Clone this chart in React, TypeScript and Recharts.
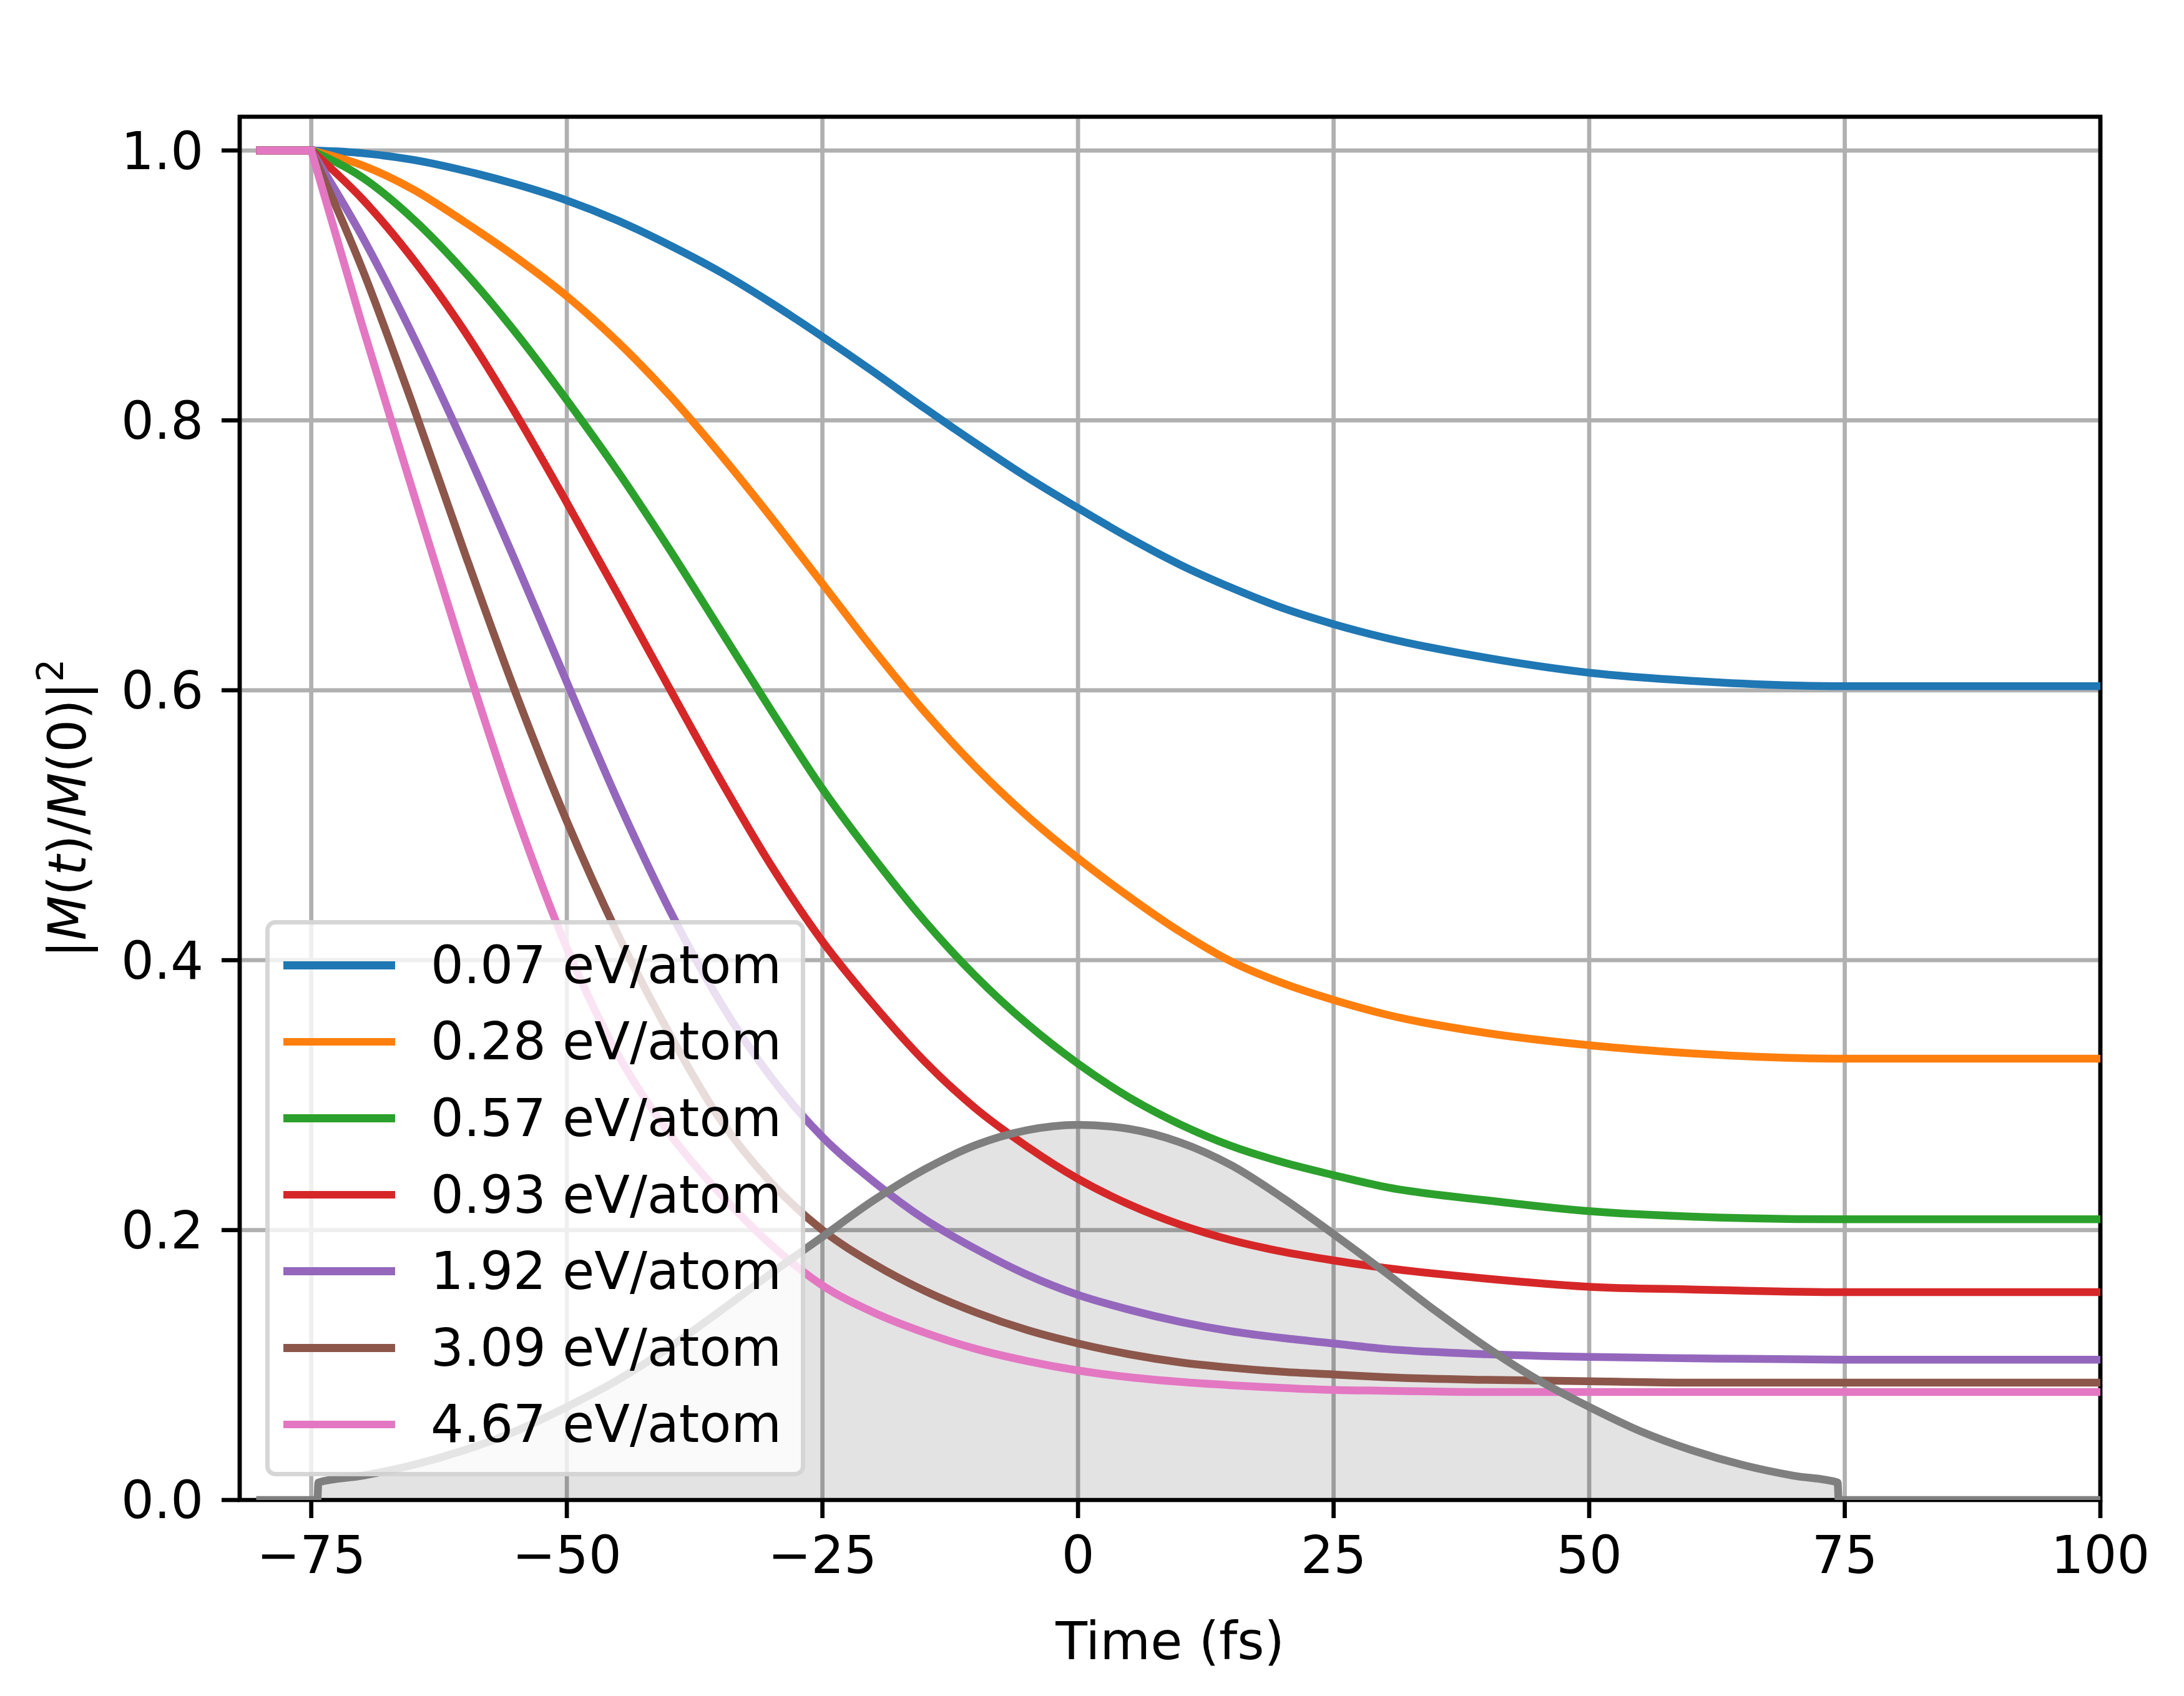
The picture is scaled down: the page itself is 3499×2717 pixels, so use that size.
import React from 'react';
import {
  ComposedChart,
  Line,
  Area,
  XAxis,
  YAxis,
  CartesianGrid,
  ReferenceArea,
  Legend,
} from 'recharts';

// ---- data ----
const TIME = [-80, -75, -70, -65, -60, -55, -50, -45, -40, -35, -30, -25, -20, -15, -10, -5, 0, 5, 10, 15, 20, 25, 30, 40, 50, 60, 75, 100];
// time at which the decay starts (curves are flat before it)
const ONSET = -75;

const E007 = [1, 1, 0.998, 0.993, 0.985, 0.975, 0.963, 0.948, 0.93, 0.91, 0.887, 0.862, 0.836, 0.809, 0.783, 0.758, 0.735, 0.713, 0.693, 0.676, 0.661, 0.649, 0.639, 0.624, 0.613, 0.607, 0.603, 0.603];
const E028 = [1, 1, 0.989, 0.971, 0.947, 0.921, 0.892, 0.858, 0.819, 0.775, 0.728, 0.679, 0.63, 0.584, 0.543, 0.507, 0.4755, 0.447, 0.421, 0.399, 0.383, 0.3705, 0.36, 0.346, 0.337, 0.331, 0.327, 0.327];
const E057 = [1, 1, 0.98, 0.949, 0.91, 0.865, 0.815, 0.762, 0.705, 0.645, 0.585, 0.527, 0.476, 0.429, 0.388, 0.353, 0.3233, 0.2983, 0.2783, 0.2623, 0.2503, 0.2407, 0.232, 0.222, 0.214, 0.21, 0.208, 0.208];
const E093 = [1, 1, 0.964, 0.919, 0.866, 0.805, 0.739, 0.671, 0.602, 0.534, 0.47, 0.414, 0.367, 0.325, 0.29, 0.262, 0.238, 0.219, 0.204, 0.1925, 0.184, 0.1775, 0.172, 0.164, 0.158, 0.156, 0.154, 0.154];
const E192 = [1, 1, 0.936, 0.862, 0.781, 0.695, 0.606, 0.518, 0.438, 0.369, 0.313, 0.269, 0.236, 0.208, 0.186, 0.167, 0.152, 0.141, 0.132, 0.125, 0.12, 0.116, 0.112, 0.108, 0.106, 0.105, 0.104, 0.104];
const E309 = [1, 1, 0.912, 0.81, 0.702, 0.598, 0.503, 0.419, 0.346, 0.282, 0.235, 0.2, 0.175, 0.155, 0.139, 0.126, 0.116, 0.108, 0.102, 0.098, 0.095, 0.093, 0.091, 0.089, 0.088, 0.087, 0.087, 0.087];
const E467 = [1, 1, 0.87, 0.746, 0.624, 0.509, 0.409, 0.33, 0.272, 0.227, 0.189, 0.159, 0.139, 0.124, 0.112, 0.103, 0.096, 0.091, 0.0875, 0.085, 0.083, 0.0815, 0.081, 0.08, 0.08, 0.08, 0.08, 0.08];

const SERIES_VALUES = [E007, E028, E057, E093, E192, E309, E467];
const SERIES_LABELS = ['0.07 eV/atom', '0.28 eV/atom', '0.57 eV/atom', '0.93 eV/atom', '1.92 eV/atom', '3.09 eV/atom', '4.67 eV/atom'];
const SERIES_COLORS = ['#1f77b4', '#ff7f0e', '#2ca02c', '#d62728', '#9467bd', '#8c564b', '#e377c2'];

const PULSE_TIME = [-80, -74.4, -74.3, -70, -65, -60, -55, -50, -45, -40, -35, -30, -25, -20, -15, -10, -5, 0, 5, 10, 15, 20, 25, 30, 35, 40, 45, 50, 55, 60, 65, 70, 74.3, 74.4, 100];
const PULSE = [0, 0, 0.013, 0.018, 0.026, 0.037, 0.051, 0.069, 0.089, 0.113, 0.14, 0.168, 0.195, 0.222, 0.245, 0.263, 0.274, 0.278, 0.275, 0.265, 0.248, 0.224, 0.197, 0.169, 0.14, 0.113, 0.089, 0.069, 0.051, 0.037, 0.026, 0.018, 0.013, 0, 0];

const X_TICKS = [-75, -50, -25, 0, 25, 50, 75, 100];
const Y_TICKS = [0, 0.2, 0.4, 0.6, 0.8, 1.0];
const X_DOMAIN = [-82, 100];
const Y_DOMAIN = [0, 1.025];

// ---- table built from the arrays ----
function buildTable() {
  const map = new Map<number, any>();
  const get = (t: number) => {
    if (!map.has(t)) map.set(t, { t });
    return map.get(t);
  };
  TIME.forEach((t, i) => {
    const row = get(t);
    SERIES_VALUES.forEach((vals, k) => {
      if (t >= ONSET) row['s' + k] = vals[i];
      if (t <= ONSET) row['f' + k] = vals[i];
    });
  });
  PULSE_TIME.forEach((t, i) => {
    get(t).pulse = PULSE[i];
  });
  return Array.from(map.values()).sort((a, b) => a.t - b.t);
}
const DATA = buildTable();

const FONT = 'DejaVu Sans';
const FS = 83;
const LW = 12.5;
const AXW = 6.7;

const fmtX = (v: number) => (v < 0 ? '\u2212' + Math.abs(v) : String(v));
const fmtY = (v: number) => v.toFixed(1);

const YLabel = (props: any) => {
  const vb = props && props.viewBox ? props.viewBox : { x: 0, y: 187, width: 384, height: 2216 };
  const cx = 137;
  const cy = vb.y + vb.height / 2;
  return (
    <text
      x={cx}
      y={cy}
      transform={`rotate(-90 ${cx} ${cy})`}
      textAnchor="middle"
      fontSize={FS}
      fontFamily={FONT}
      fill="#000"
    >
      <tspan>|</tspan>
      <tspan fontStyle="italic">M</tspan>
      <tspan>(</tspan>
      <tspan fontStyle="italic">t</tspan>
      <tspan>)/</tspan>
      <tspan fontStyle="italic">M</tspan>
      <tspan>(0)|</tspan>
      <tspan fontSize={58} dy={-36}>2</tspan>
    </text>
  );
};

const XLabel = (props: any) => {
  const vb = props && props.viewBox ? props.viewBox : { x: 384, y: 2403, width: 2981, height: 314 };
  const cx = vb.x + vb.width / 2;
  return (
    <text x={cx} y={vb.y + 255} textAnchor="middle" fontSize={FS} fontFamily={FONT} fill="#000">
      Time (fs)
    </text>
  );
};

const LegendBox = () => (
  <div
    style={{
      boxSizing: 'border-box',
      width: 865,
      height: 891,
      border: '7px solid rgba(204,204,204,0.8)',
      borderRadius: 16,
      background: 'rgba(255,255,255,0.8)',
      paddingTop: 4,
      paddingLeft: 22,
      fontFamily: FONT,
      fontSize: FS,
      color: '#000',
    }}
  >
    {SERIES_LABELS.map((label, k) => (
      <div key={label} style={{ display: 'flex', alignItems: 'center', height: 122.6 }}>
        <div style={{ width: 179, height: LW, background: SERIES_COLORS[k], flex: 'none' }} />
        <div style={{ marginLeft: 57, whiteSpace: 'nowrap', lineHeight: 'normal' }}>{label}</div>
      </div>
    ))}
  </div>
);

export default function App() {
  const lines: React.ReactNode[] = [];
  SERIES_VALUES.forEach((_, k) => {
    lines.push(
      <Line
        key={'f' + k}
        type="linear"
        dataKey={'f' + k}
        stroke={SERIES_COLORS[k]}
        strokeWidth={LW}
        strokeLinecap="square"
        strokeLinejoin="round"
        dot={false}
        activeDot={false}
        connectNulls
        isAnimationActive={false}
      />
    );
    lines.push(
      <Line
        key={'s' + k}
        type="monotone"
        dataKey={'s' + k}
        stroke={SERIES_COLORS[k]}
        strokeWidth={LW}
        strokeLinecap="round"
        strokeLinejoin="round"
        dot={false}
        activeDot={false}
        connectNulls
        isAnimationActive={false}
      />
    );
  });

  return (
    <div style={{ position: 'absolute', left: 0, top: 0, width: 3499, height: 2717, background: '#fff' }}>
      <ComposedChart
        width={3499}
        height={2717}
        data={DATA}
        margin={{ top: 187, right: 134, bottom: 0, left: 0 }}
      >
        <Area
          type="monotone"
          dataKey="pulse"
          stroke="none"
          fill="#000"
          fillOpacity={0.11}
          connectNulls
          isAnimationActive={false}
          dot={false}
          activeDot={false}
        />
        <CartesianGrid stroke="#b0b0b0" strokeWidth={AXW} />
        {lines}
        <Line
          type="monotone"
          dataKey="pulse"
          stroke="#7f7f7f"
          strokeWidth={LW}
          strokeLinecap="square"
          strokeLinejoin="round"
          dot={false}
          activeDot={false}
          connectNulls
          isAnimationActive={false}
        />
        <ReferenceArea
          x1={X_DOMAIN[0]}
          x2={X_DOMAIN[1]}
          y1={Y_DOMAIN[0]}
          y2={Y_DOMAIN[1]}
          fill="none"
          fillOpacity={0}
          stroke="#000"
          strokeWidth={AXW}
          ifOverflow="visible"
        />
        <XAxis
          dataKey="t"
          type="number"
          domain={X_DOMAIN}
          ticks={X_TICKS}
          allowDataOverflow
          height={314}
          tickFormatter={fmtX}
          tick={{ fontSize: FS, fill: '#000', fontFamily: FONT }}
          tickLine={{ stroke: '#000', strokeWidth: AXW }}
          axisLine={false}
          tickSize={29}
          tickMargin={29}
          interval={0}
          label={XLabel}
        />
        <YAxis
          type="number"
          domain={Y_DOMAIN}
          ticks={Y_TICKS}
          allowDataOverflow
          width={384}
          tickFormatter={fmtY}
          tick={{ fontSize: FS, fill: '#000', fontFamily: FONT }}
          tickLine={{ stroke: '#000', strokeWidth: AXW }}
          axisLine={false}
          tickSize={29}
          tickMargin={29}
          interval={0}
          label={YLabel}
        />
        <Legend
          layout="vertical"
          align="center"
          verticalAlign="middle"
          content={() => <LegendBox />}
          wrapperStyle={{ left: 425, top: 1474, width: 865, height: 891 }}
        />
      </ComposedChart>
    </div>
  );
}
